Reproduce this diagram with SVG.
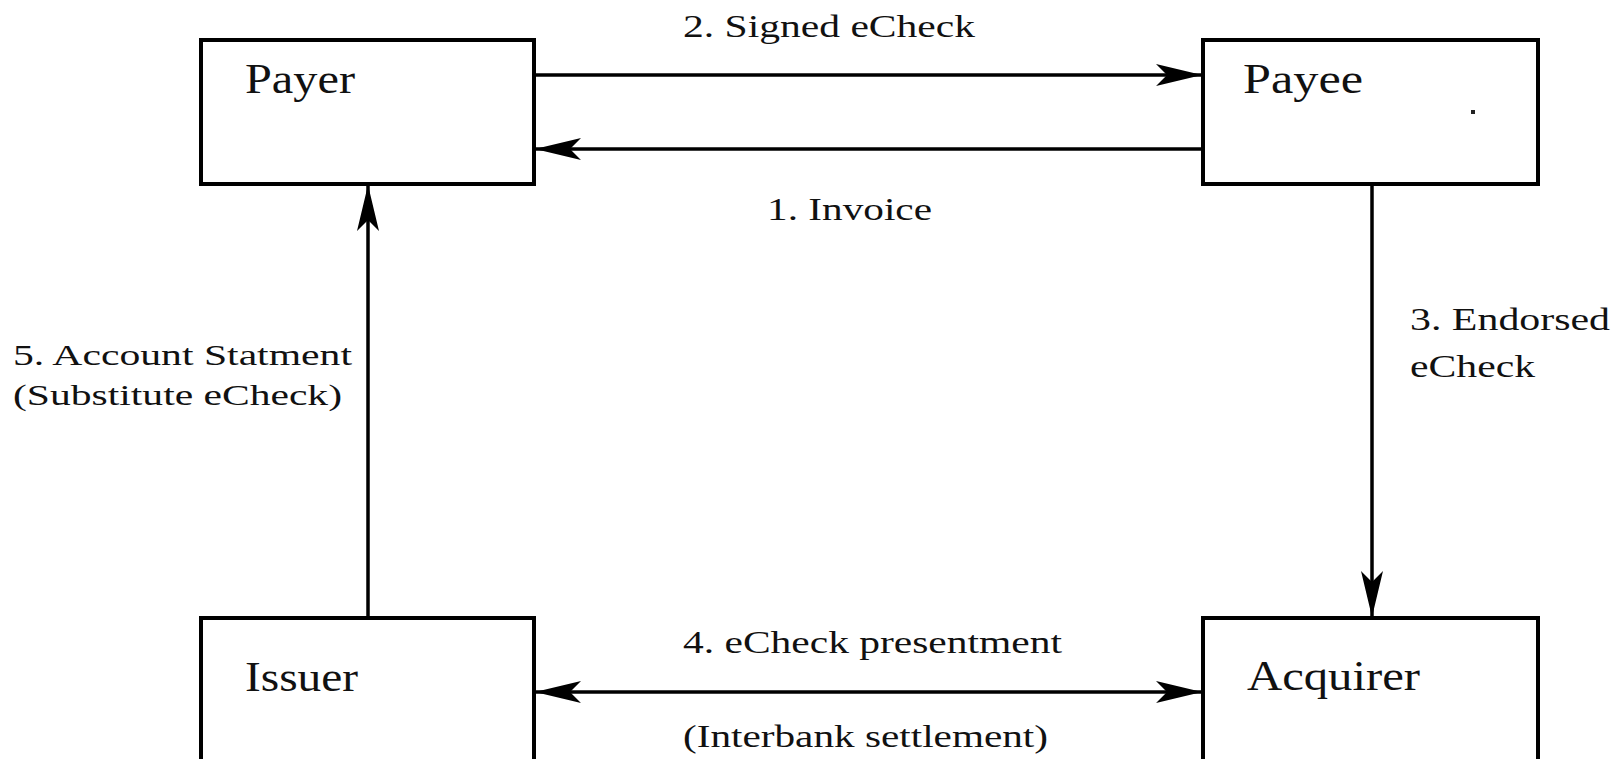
<svg xmlns="http://www.w3.org/2000/svg" width="1624" height="759" viewBox="0 0 1624 759">
<style>
.box{fill:#fff;stroke:#000;stroke-width:4}
.ln{fill:none;stroke:#000;stroke-width:3.5}
.nt{font-family:"Liberation Serif","Times New Roman",serif;font-size:42px;fill:#111}
.lb{font-family:"Liberation Serif","Times New Roman",serif;font-size:32px;fill:#111}
.lb2{font-family:"Liberation Serif","Times New Roman",serif;font-size:30px;fill:#111}
</style>
<defs>
<marker id="ah" markerUnits="userSpaceOnUse" markerWidth="48" markerHeight="24" refX="46" refY="11" orient="auto-start-reverse" viewBox="0 0 48 24">
<path d="M0,0 L46,11 L0,22 L11,11 Z" fill="#000"/>
</marker>
</defs>
<rect width="1624" height="759" fill="#fff"/>
<g id="payer">
<rect class="box" x="201" y="40" width="333" height="144"/>
<text class="nt" x="245" y="93" textLength="110" lengthAdjust="spacingAndGlyphs">Payer</text>
</g>
<g id="payee">
<rect class="box" x="1203" y="40" width="335" height="144"/>
<text class="nt" x="1243" y="93" textLength="120" lengthAdjust="spacingAndGlyphs">Payee</text>
<rect x="1471" y="110" width="4" height="4" fill="#222"/>
</g>
<g id="issuer">
<rect class="box" x="201" y="618" width="333" height="200"/>
<text class="nt" x="245" y="691" textLength="113" lengthAdjust="spacingAndGlyphs">Issuer</text>
</g>
<g id="acquirer">
<rect class="box" x="1203" y="618" width="335" height="200"/>
<text class="nt" x="1247" y="690" textLength="173" lengthAdjust="spacingAndGlyphs">Acquirer</text>
</g>
<g id="connectors">
<line class="ln" x1="534" y1="75" x2="1202" y2="75" marker-end="url(#ah)"/>
<line class="ln" x1="1203" y1="149" x2="535" y2="149" marker-end="url(#ah)"/>
<line class="ln" x1="368" y1="618" x2="368" y2="185" marker-end="url(#ah)"/>
<line class="ln" x1="1372" y1="184" x2="1372" y2="617" marker-end="url(#ah)"/>
<line class="ln" x1="535" y1="692" x2="1202" y2="692" marker-start="url(#ah)" marker-end="url(#ah)"/>
</g>
<g id="labels">
<text class="lb" x="683" y="37" textLength="292" lengthAdjust="spacingAndGlyphs">2. Signed eCheck</text>
<text class="lb" x="767" y="220" textLength="165" lengthAdjust="spacingAndGlyphs">1. Invoice</text>
<text class="lb" x="1410" y="330" textLength="200" lengthAdjust="spacingAndGlyphs">3. Endorsed</text>
<text class="lb" x="1410" y="377" textLength="125" lengthAdjust="spacingAndGlyphs">eCheck</text>
<text class="lb" x="683" y="653" textLength="379" lengthAdjust="spacingAndGlyphs">4. eCheck presentment</text>
<text class="lb" x="683" y="747" textLength="365" lengthAdjust="spacingAndGlyphs">(Interbank settlement)</text>
<text class="lb2" x="13" y="365" textLength="339" lengthAdjust="spacingAndGlyphs">5. Account Statment</text>
<text class="lb2" x="13" y="405" textLength="329" lengthAdjust="spacingAndGlyphs">(Substitute eCheck)</text>
</g>
</svg>
